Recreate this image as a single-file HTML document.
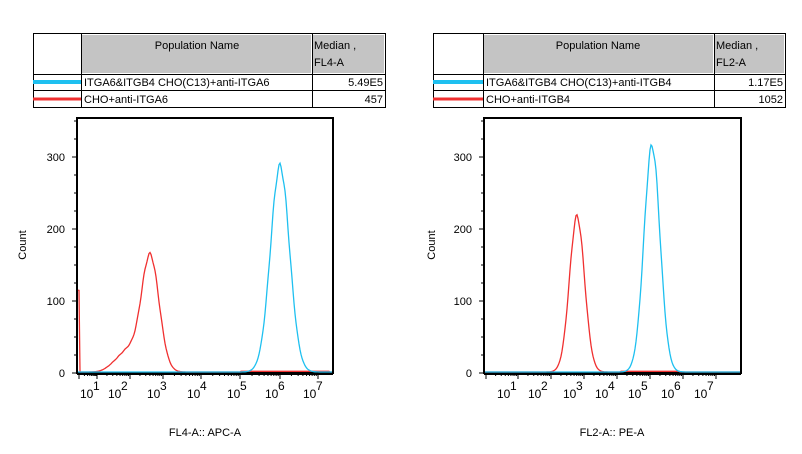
<!DOCTYPE html>
<html><head><meta charset="utf-8"><style>
body{margin:0;background:#fff;width:802px;height:449px;overflow:hidden}
svg{font-family:"Liberation Sans",sans-serif}
</style></head><body>
<svg id="s" width="802" height="449" xmlns="http://www.w3.org/2000/svg">
<g font-size="11" fill="#000">
<rect x="33.5" y="33.5" width="352" height="74" fill="#fff" stroke="#000"/>
<rect x="82" y="35" width="229" height="38" fill="#c4c4c4"/>
<rect x="313" y="35" width="71" height="38" fill="#c4c4c4"/>
<line x1="81.5" y1="33" x2="81.5" y2="108" stroke="#000"/>
<line x1="312.5" y1="33" x2="312.5" y2="108" stroke="#000"/>
<line x1="33" y1="74.5" x2="386" y2="74.5" stroke="#000"/>
<line x1="33" y1="90.5" x2="386" y2="90.5" stroke="#000"/>
<text x="197" y="49" text-anchor="middle">Population Name</text>
<text x="314" y="49">Median ,</text><text x="314" y="66">FL4-A</text>
<line x1="33" y1="82" x2="81" y2="82" stroke="#1ec0f0" stroke-width="4"/>
<line x1="33" y1="99" x2="81" y2="99" stroke="#f03030" stroke-width="3"/>
<text x="84" y="86">ITGA6&amp;ITGB4 CHO(C13)+anti-ITGA6</text>
<text x="383" y="86" text-anchor="end">5.49E5</text>
<text x="84" y="103">CHO+anti-ITGA6</text>
<text x="383" y="103" text-anchor="end">457</text>
<rect x="433.5" y="33.5" width="352" height="74" fill="#fff" stroke="#000"/>
<rect x="484" y="35" width="229" height="38" fill="#c4c4c4"/>
<rect x="715" y="35" width="69" height="38" fill="#c4c4c4"/>
<line x1="483.5" y1="33" x2="483.5" y2="108" stroke="#000"/>
<line x1="714.5" y1="33" x2="714.5" y2="108" stroke="#000"/>
<line x1="433" y1="74.5" x2="786" y2="74.5" stroke="#000"/>
<line x1="433" y1="90.5" x2="786" y2="90.5" stroke="#000"/>
<text x="598" y="49" text-anchor="middle">Population Name</text>
<text x="716" y="49">Median ,</text><text x="716" y="66">FL2-A</text>
<line x1="433" y1="82" x2="483" y2="82" stroke="#1ec0f0" stroke-width="4"/>
<line x1="433" y1="99" x2="483" y2="99" stroke="#f03030" stroke-width="3"/>
<text x="486" y="86">ITGA6&amp;ITGB4 CHO(C13)+anti-ITGB4</text>
<text x="783" y="86" text-anchor="end">1.17E5</text>
<text x="486" y="103">CHO+anti-ITGB4</text>
<text x="783" y="103" text-anchor="end">1052</text>
<text x="26" y="245" transform="rotate(-90 26 245)" text-anchor="middle">Count</text>
<text x="435" y="245" transform="rotate(-90 435 245)" text-anchor="middle">Count</text>
<text x="205" y="436" text-anchor="middle">FL4-A:: APC-A</text>
<text x="612" y="436" text-anchor="middle">FL2-A:: PE-A</text>
</g>
<g id="d"></g>
</svg>
<script>
const NS="http://www.w3.org/2000/svg",d=document.getElementById('d');
function el(t,a,txt){const e=document.createElementNS(NS,t);for(const k in a)e.setAttribute(k,a[k]);if(txt!=null)e.textContent=txt;d.appendChild(e);return e;}
const Y0=373,K=0.72;
function axes(L,R,labels,ticks){
 el('rect',{x:L,y:118,width:R-L,height:Y0-118,fill:'none',stroke:'#000','stroke-width':2});
 for(let v=0;v<=350;v+=25){const y=Y0-v*K;el('line',{x1:L-(v%100?3:5),y1:y,x2:L,y2:y,stroke:'#000'});}
 [0,100,200,300].forEach(v=>el('text',{x:L-12,y:Y0-v*K+4,'font-size':11,'text-anchor':'end'},v));
 el('line',{x1:L,y1:Y0+1,x2:R,y2:Y0+1,stroke:'#000','stroke-width':2});
 for(let i=0;i<ticks.length;i++){const x=ticks[i];el('line',{x1:x,y1:Y0,x2:x,y2:Y0+6,stroke:'#000'});
  if(i<ticks.length-1){for(let m=2;m<10;m++){const xx=x+(ticks[i+1]-x)*Math.log10(m);el('line',{x1:xx,y1:Y0,x2:xx,y2:Y0+3,stroke:'#000'});}}}
 labels.forEach((x,i)=>{el('text',{x:x-10,y:398,'font-size':12},'10');el('text',{x:x+3,y:390,'font-size':12},i+1);});
}
function curve(L,R,f,col){let p='';for(let x=L+1;x<R;x+=1){let v=f(x);v=Math.max(0,v*(1+(Math.sin(x*7.3)*0.015)));p+=(p?'L':'M')+x+','+(Y0-1-v*K).toFixed(1);}
 el('path',{d:p,fill:'none',stroke:col,'stroke-width':1.3});}
const g=(x,m,s,h)=>h*Math.exp(-((x-m)*(x-m))/(2*s*s));
axes(77,333,[90,118,157,197,237,275,313],[79,97,130,163,201,240,280,318]);
curve(77,333,x=>g(x,150,9,163)+g(x,128,8,25)+g(x,115,8,10)+(x<80?115:0)+(x>240&&x<330?1:0),'#f03030');
curve(77,333,x=>g(x,280,9.5,286),'#1ec0f0');
axes(484,741,[507,538,573,605,638,671,704],[486,518,551,584,617,650,683,716]);
curve(484,741,x=>g(x,577,7.5,216)+(x>620&&x<680?1:0),'#f03030');
curve(484,741,x=>g(x,652,8,314),'#1ec0f0');
</script>
</body></html>
